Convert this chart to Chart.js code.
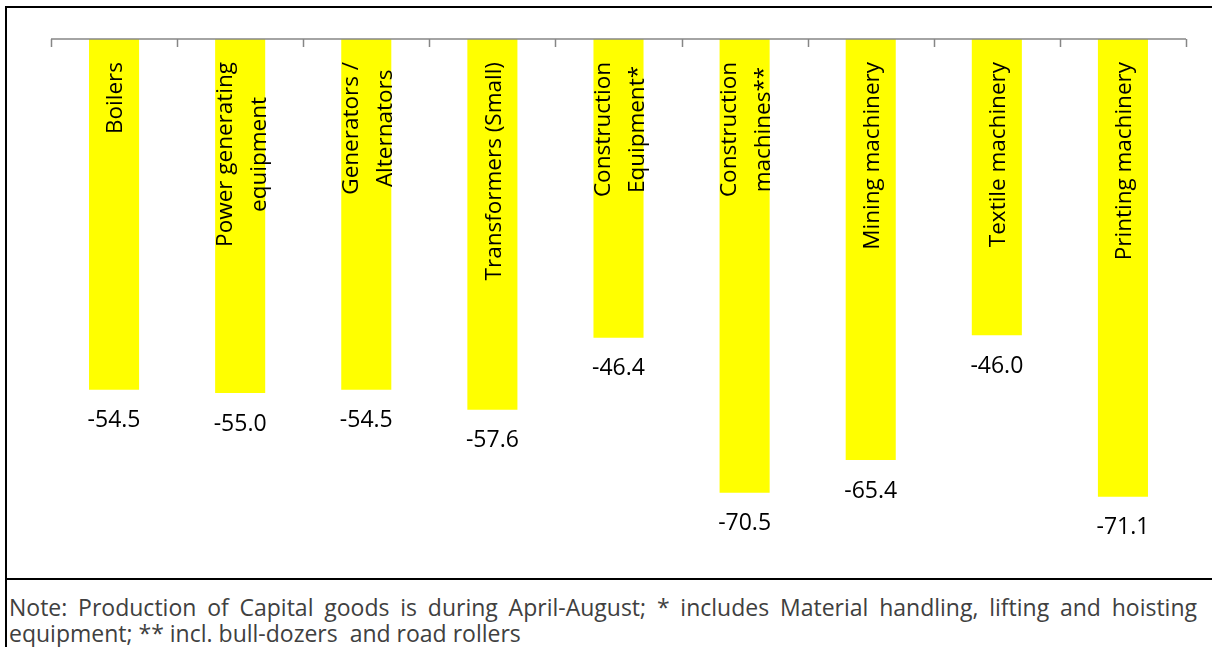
<!DOCTYPE html>
<html>
<head>
<meta charset="utf-8">
<script src="https://cdn.jsdelivr.net/npm/chart.js@4.4.1/dist/chart.umd.min.js"></script>
<style>
  body { margin: 0; background: #fff; }
  .wrap { position: absolute; left: 5px; top: 6px; width: 1212px; border: 2px solid #000; }
  .chartBox { position: relative; width: 1205px; height: 570px; border-bottom: 2px solid #000; }
  .note { font-family: "Open Sans", sans-serif; font-size: 23px; line-height: 26px; color: #404040;
          padding: 14px 22px 10px 2px; white-space: nowrap; }
  .note .l1 { text-align: justify; text-align-last: justify; }
</style>
</head>
<body>
<div class="wrap">
  <div class="chartBox"><canvas id="chart"></canvas></div>
  <div class="note">
    <div class="l1">Note: Production of Capital goods is during April-August; * includes Material handling, lifting and hoisting</div>
    <div>equipment; ** incl. bull-dozers&nbsp; and road rollers</div>
  </div>
</div>
<script>
const categories = [
  ["Boilers"],
  ["Power generating", "equipment"],
  ["Generators /", "Alternators"],
  ["Transformers (Small)"],
  ["Construction", "Equipment*"],
  ["Construction", "machines**"],
  ["Mining machinery"],
  ["Textile machinery"],
  ["Printing machinery"]
];
const growth = [-54.5, -55.0, -54.5, -57.6, -46.4, -70.5, -65.4, -46.0, -71.1];

// axis line on top with tick marks at category boundaries, pointing down
const topAxis = {
  id: 'topAxis',
  afterDatasetsDraw(chart) {
    const { ctx, chartArea, scales } = chart;
    const y0 = scales.y.getPixelForValue(0);
    const step = scales.x.getPixelForValue(1) - scales.x.getPixelForValue(0);
    ctx.save();
    ctx.strokeStyle = '#868686';
    ctx.lineWidth = 1.5;
    ctx.beginPath();
    ctx.moveTo(chartArea.left, y0);
    ctx.lineTo(chartArea.right, y0);
    for (let i = 0; i <= categories.length; i++) {
      const x = Math.round(scales.x.getPixelForValue(i) - step / 2) + 0.5;
      ctx.moveTo(x, y0);
      ctx.lineTo(x, y0 + 8);
    }
    ctx.stroke();
    ctx.restore();
  }
};

// category names written vertically inside the bars, values under the bar ends
const barLabels = {
  id: 'barLabels',
  afterDatasetsDraw(chart) {
    const { ctx, scales } = chart;
    const meta = chart.getDatasetMeta(0);
    const y0 = scales.y.getPixelForValue(0);
    ctx.save();
    ctx.fillStyle = '#000';
    meta.data.forEach((bar, i) => {
      const lines = categories[i];
      ctx.font = '22.5px "Open Sans"';
      const maxW = Math.max(...lines.map(l => ctx.measureText(l).width));
      ctx.save();
      ctx.translate(bar.x, y0 + 23);
      ctx.rotate(-Math.PI / 2);
      ctx.textAlign = 'center';
      ctx.textBaseline = 'middle';
      lines.forEach((l, j) => {
        const off = (j - (lines.length - 1) / 2) * 34 + 2;
        ctx.fillText(l, -maxW / 2, off);
      });
      ctx.restore();

      ctx.font = '23px "Open Sans"';
      ctx.textAlign = 'center';
      ctx.textBaseline = 'middle';
      ctx.fillText(growth[i].toFixed(1), bar.x, bar.y + 31);
    });
    ctx.restore();
  }
};

new Chart(document.getElementById('chart'), {
  type: 'bar',
  data: {
    labels: categories,
    datasets: [{
      data: growth,
      backgroundColor: '#FFFF00',
      borderWidth: 0,
      barPercentage: 1,
      categoryPercentage: 0.397
    }]
  },
  options: {
    responsive: true,
    maintainAspectRatio: false,
    animation: false,
    layout: { padding: { left: 44, right: 26, top: 31, bottom: 24 } },
    plugins: { legend: { display: false }, tooltip: { enabled: false } },
    scales: {
      x: { display: false },
      y: { display: false, min: -80, max: 0 }
    }
  },
  plugins: [topAxis, barLabels]
});
</script>
</body>
</html>
